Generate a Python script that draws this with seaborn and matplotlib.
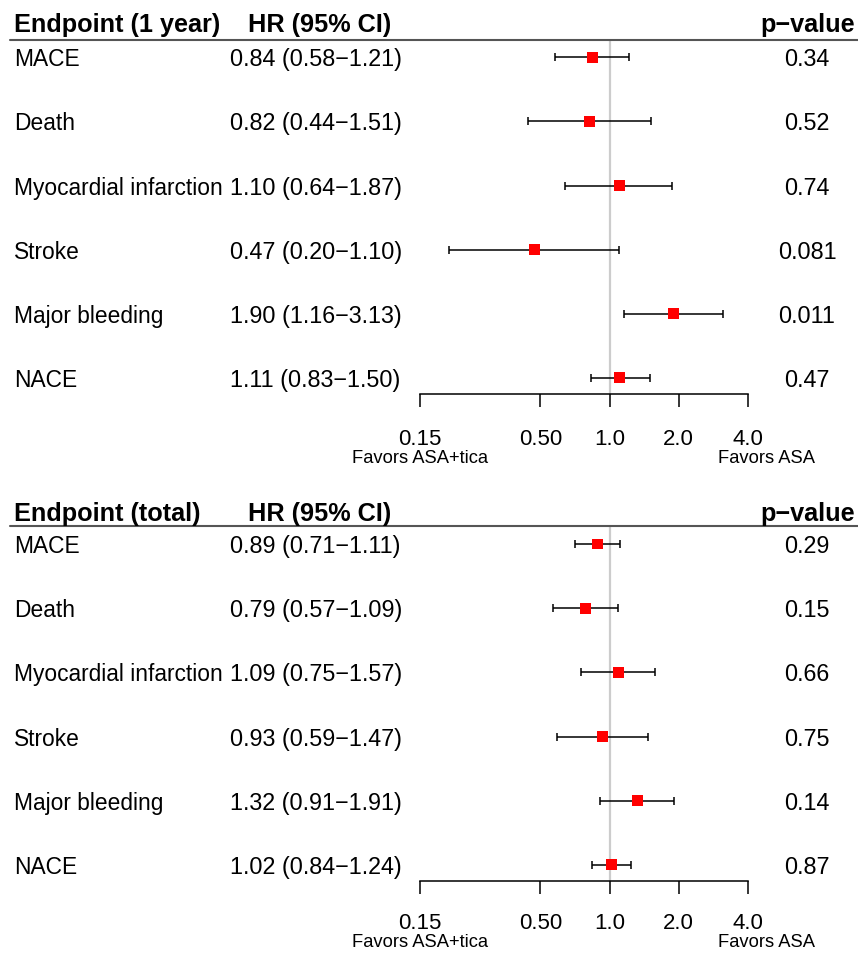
import numpy as np
import matplotlib
matplotlib.use("Agg")
import matplotlib.pyplot as plt
import matplotlib.transforms as mtransforms
from matplotlib.ticker import NullLocator
import seaborn as sns

endpoints = ["MACE", "Death", "Myocardial infarction", "Stroke", "Major bleeding", "NACE"]

hr_1y = [0.84, 0.82, 1.10, 0.47, 1.90, 1.11]
lo_1y = [0.58, 0.44, 0.64, 0.20, 1.16, 0.83]
hi_1y = [1.21, 1.51, 1.87, 1.10, 3.13, 1.50]
p_1y = ["0.34", "0.52", "0.74", "0.081", "0.011", "0.47"]

hr_tot = [0.89, 0.79, 1.09, 0.93, 1.32, 1.02]
lo_tot = [0.71, 0.57, 0.75, 0.59, 0.91, 0.84]
hi_tot = [1.11, 1.09, 1.57, 1.47, 1.91, 1.24]
p_tot = ["0.29", "0.15", "0.66", "0.75", "0.14", "0.87"]

ticks = [0.15, 0.5, 1.0, 2.0, 4.0]
tick_labels = ["0.15", "0.50", "1.0", "2.0", "4.0"]

sns.set_style("white")
plt.rcParams['font.family'] = ['Liberation Sans', 'DejaVu Sans']
plt.rcParams['text.color'] = 'black'
plt.rcParams['xtick.color'] = 'black'
plt.rcParams['xtick.labelcolor'] = 'black'

W, H = 858, 954
fig = plt.figure(figsize=(W / 100, H / 100), dpi=100)


def panel(top_px, bot_px, ylim, title, hr, lo, hi, pvals, head_off, fav_off, tick_pad):
    ax = fig.add_axes([420 / W, 1 - bot_px / H, 328 / W, (bot_px - top_px) / H])
    rows = np.arange(len(hr))
    hr = np.array(hr)
    lo = np.array(lo)
    hi = np.array(hi)

    ax.axvline(1.0, color="#cccccc", lw=1.6, zorder=0)
    ax.errorbar(hr, rows, xerr=[hr - lo, hi - hr], fmt="none", ecolor="black",
                elinewidth=1.1, capsize=3.2, capthick=1.1, zorder=2)
    sns.scatterplot(x=hr, y=rows, marker="s", color="red", s=62,
                    edgecolor="none", zorder=3, ax=ax)

    ax.set_xscale("log")
    ax.set_xlim(0.15, 4.0)
    ax.set_ylim(*ylim)
    ax.set_xticks(ticks)
    ax.set_xticklabels(tick_labels, fontsize=16)
    ax.xaxis.set_minor_locator(NullLocator())
    ax.set_yticks([])
    ax.set_xlabel("")
    ax.set_ylabel("")
    ax.tick_params(axis="x", direction="out", length=9.4, width=1.1,
                   pad=tick_pad, colors="black", bottom=True)
    for s in ["top", "left", "right"]:
        ax.spines[s].set_visible(False)
    ax.spines["bottom"].set_color("black")
    ax.spines["bottom"].set_linewidth(1.1)

    # header underline
    ax.axhline(ylim[1], xmin=(10 - 420) / 328, xmax=(858 - 420) / 328,
               color="#555555", lw=1.5, clip_on=False)

    tr = mtransforms.blended_transform_factory(fig.transFigure, ax.transAxes)
    for x, txt, ha in [(14, title, "left"), (320, "HR (95% CI)", "center"),
                       (855, "p\u2212value", "right")]:
        ax.annotate(txt, xy=(x / W, 1), xycoords=tr, xytext=(0, head_off),
                    textcoords="offset pixels", ha=ha, va="baseline",
                    fontsize=18.2, fontweight="bold")

    trd = mtransforms.blended_transform_factory(fig.transFigure, ax.transData)
    for r, name in enumerate(endpoints):
        ci = f"{hr[r]:.2f} ({lo[r]:.2f}\u2212{hi[r]:.2f})"
        for x, txt, ha, fs in [(14, name, "left", 16.4), (230, ci, "left", 16.8),
                               (807, pvals[r], "center", 16.8)]:
            ax.annotate(txt, xy=(x / W, r), xycoords=trd, xytext=(0, -8),
                        textcoords="offset pixels", ha=ha, va="baseline", fontsize=fs)

    trb = mtransforms.blended_transform_factory(ax.transData, ax.transAxes)
    for x, txt in [(0.15, "Favors ASA+tica"), (4.8, "Favors ASA")]:
        ax.annotate(txt, xy=(x, 0), xycoords=trb, xytext=(0, fav_off),
                    textcoords="offset pixels", ha="center", va="baseline", fontsize=13.2)
    return ax


panel(41, 395, (5.25, -0.27), "Endpoint (1 year)", hr_1y, lo_1y, hi_1y, p_1y, 9, -68, 15)
panel(527, 882, (5.25, -0.28), "Endpoint (total)", hr_tot, lo_tot, hi_tot, p_tot, 6, -65, 13)

fig.savefig("out.png", dpi=100)
